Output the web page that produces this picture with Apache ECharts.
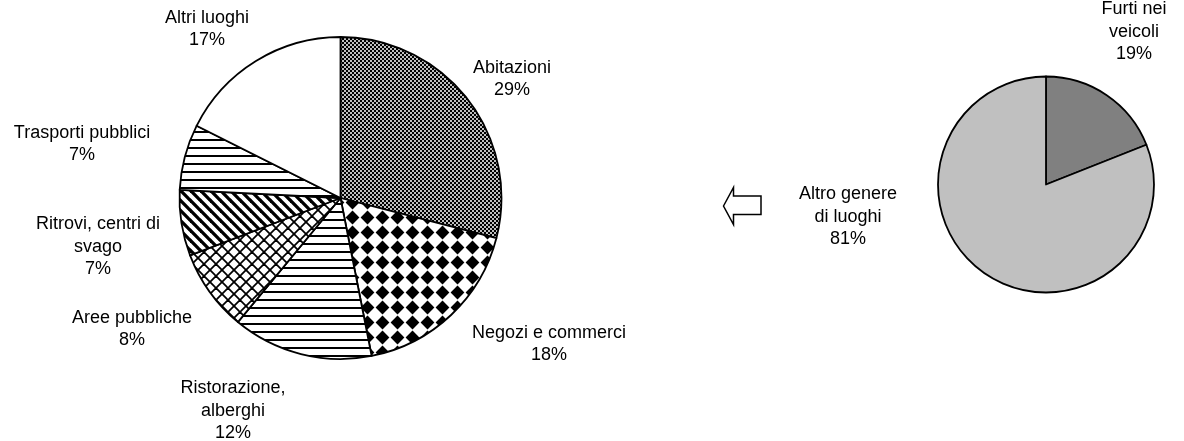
<!DOCTYPE html>
<html>
<head>
<meta charset="utf-8">
<script src="https://cdn.jsdelivr.net/npm/echarts@6/dist/echarts.min.js"></script>
<style>
html,body{margin:0;padding:0;background:#fff;}
#chart{width:1184px;height:441px;}
</style>
</head>
<body>
<div id="chart"></div>
<script>
// ---- data ----
const leftCategories = ['Abitazioni', 'Negozi e commerci', 'Ristorazione,\nalberghi', 'Aree pubbliche', 'Ritrovi, centri di\nsvago', 'Trasporti pubblici', 'Altri luoghi'];
const leftSliceValues = [29.0, 17.9, 14.1, 8.2, 6.6, 6.6, 17.6];
const leftLabelPct = ['29%', '18%', '12%', '8%', '7%', '7%', '17%'];
const rightCategories = ['Furti nei\nveicoli', 'Altro genere\ndi luoghi'];
const rightValues = [19, 81];
const rightLabelPct = ['19%', '81%'];

// ---- layout / style ----
const LC = [340.5, 198], LR = 161;
const RC = [1046, 184.5], RR = 108;
const leftLabelOffsets = [[171.5, -119], [208.5, 146], [-107.5, 213], [-208.5, 131], [-242.5, 49], [-258.5, -54], [-133.5, -169]];
const rightLabelOffsets = [[88, -152.5], [-198, 32.5]];

function makePattern(w, h, draw) {
  const c = document.createElement('canvas');
  c.width = w; c.height = h;
  const g = c.getContext('2d');
  g.fillStyle = '#fff'; g.fillRect(0, 0, w, h);
  g.fillStyle = '#000'; g.strokeStyle = '#000';
  draw(g, w, h);
  return { image: c, repeat: 'repeat' };
}
const patChecker = makePattern(4, 4, g => { g.fillRect(0, 0, 2, 2); g.fillRect(2, 2, 2, 2); g.fillStyle = 'rgba(0,0,0,0.25)'; g.fillRect(2, 0, 2, 2); g.fillRect(0, 2, 2, 2); });
const patDiamond = makePattern(15, 15, g => {
  g.beginPath(); g.moveTo(7.5, 0.6); g.lineTo(14.4, 7.5); g.lineTo(7.5, 14.4); g.lineTo(0.6, 7.5); g.closePath(); g.fill();
});
const patHLines = makePattern(8, 8, g => { g.fillRect(0, 3, 8, 2); });
const patHLines2 = makePattern(8, 8, g => { g.fillRect(0, 3, 8, 2); });
const patLattice = makePattern(12, 12, g => {
  g.lineWidth = 1.8;
  for (let k = -1; k <= 1; k++) {
    g.beginPath(); g.moveTo(k * 12, 0); g.lineTo(k * 12 + 12, 12); g.stroke();
    g.beginPath(); g.moveTo(k * 12 + 12, 0); g.lineTo(k * 12, 12); g.stroke();
  }
});
const patDiag = makePattern(10, 10, g => {
  g.lineWidth = 3.3;
  for (let k = -1; k <= 1; k++) {
    g.beginPath(); g.moveTo(k * 10 - 1, -1); g.lineTo(k * 10 + 11, 11); g.stroke();
  }
});
const leftFills = [patChecker, patDiamond, patHLines, patLattice, patDiag, patHLines2, '#ffffff'];
const rightFills = ['#808080', '#c0c0c0'];

const labelStyle = { fontFamily: 'Liberation Sans, Arial, sans-serif', fontSize: 18, lineHeight: 22.5, color: '#000', overflow: 'none' };

function mkLayout(center, offsets) {
  return function (params) {
    const o = offsets[params.dataIndex];
    return { x: center[0] + o[0], y: center[1] + o[1], align: 'center', verticalAlign: 'middle', width: 300 };
  };
}

const chart = echarts.init(document.getElementById('chart'), null, { renderer: 'canvas' });
chart.setOption({
  animation: false,
  backgroundColor: '#fff',
  series: [
    {
      type: 'pie',
      center: LC, radius: LR,
      startAngle: 90, clockwise: true,
      emphasis: { disabled: true },
      label: Object.assign({ show: true, position: 'outside', align: 'center',
        formatter: p => leftCategories[p.dataIndex] + '\n' + leftLabelPct[p.dataIndex] }, labelStyle),
      labelLine: { show: false },
      labelLayout: mkLayout(LC, leftLabelOffsets),
      itemStyle: { borderColor: '#000', borderWidth: 1.8 },
      data: leftCategories.map((n, i) => ({ name: n, value: leftSliceValues[i], itemStyle: { color: leftFills[i] } }))
    },
    {
      type: 'pie',
      center: RC, radius: RR,
      startAngle: 90, clockwise: true,
      emphasis: { disabled: true },
      label: Object.assign({ show: true, position: 'outside', align: 'center',
        formatter: p => rightCategories[p.dataIndex] + '\n' + rightLabelPct[p.dataIndex] }, labelStyle),
      labelLine: { show: false },
      labelLayout: mkLayout(RC, rightLabelOffsets),
      itemStyle: { borderColor: '#000', borderWidth: 1.8 },
      data: rightCategories.map((n, i) => ({ name: n, value: rightValues[i], itemStyle: { color: rightFills[i] } }))
    }
  ],
  graphic: [
    {
      type: 'polygon',
      shape: { points: [[723.5, 206], [733.5, 187.5], [733.5, 196], [761, 196], [761, 214.5], [733.5, 214.5], [733.5, 224.5]] },
      style: { fill: '#fff', stroke: '#000', lineWidth: 1.5 }
    }
  ]
});
</script>
</body>
</html>
